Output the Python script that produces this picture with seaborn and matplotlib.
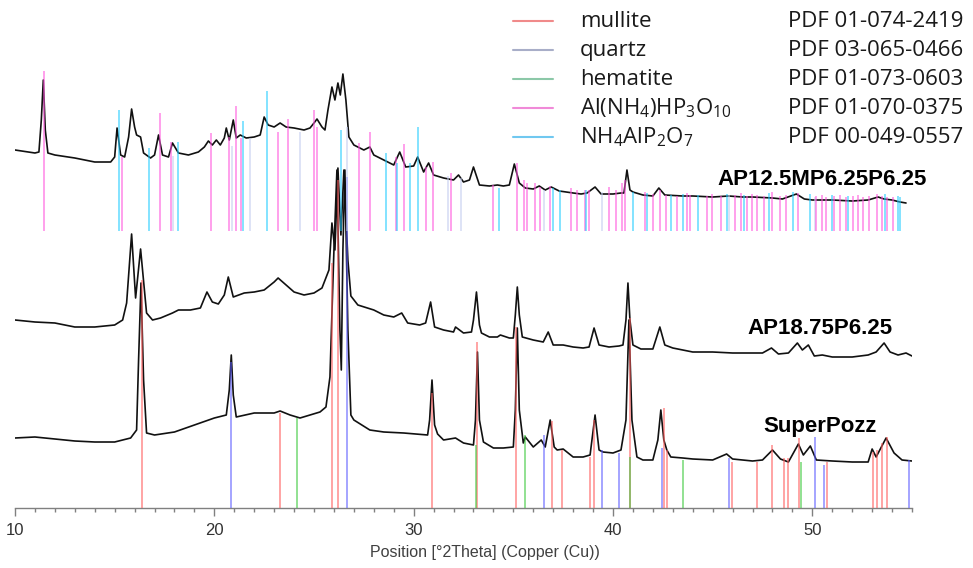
import matplotlib
matplotlib.use("Agg")
import numpy as np
import pandas as pd
import matplotlib.pyplot as plt
import seaborn as sns
from matplotlib.lines import Line2D
from matplotlib.ticker import MultipleLocator

# --- XRD patterns (2theta in deg, intensity in a.u. incl. stacking offset) ---
sp_2theta = [10.0, 11.0, 12.0, 13.0, 14.0, 15.0, 15.8, 16.1, 16.2, 16.32, 16.45, 16.6, 17.0, 18.0, 19.0, 20.0,
             20.6, 20.75, 20.85, 20.95, 21.1, 22.0, 23.0, 23.3, 23.8, 24.3, 24.8, 25.3, 25.6, 25.8,
             26.0, 26.15, 26.3, 26.37, 26.45, 26.55, 26.7, 26.85, 27.0, 27.8, 28.5, 29.5, 30.7, 30.8,
             30.92, 31.05, 31.2, 31.5, 32.1, 32.5, 33.0, 33.1, 33.2, 33.3, 33.5, 34.0, 34.5, 35.0, 35.1,
             35.2, 35.3, 35.5, 35.6, 36.0, 36.4, 36.6, 36.85, 37.05, 37.2, 37.5, 38.0, 38.5, 38.85, 39.1,
             39.3, 39.5, 40.0, 40.4, 40.65, 40.8, 40.95, 41.2, 41.5, 42.0, 42.25, 42.4, 42.55, 42.7, 42.9,
             43.5, 44.0, 45.0, 45.7, 46.0, 47.0, 47.5, 48.0, 48.4, 48.8, 49.3, 49.55, 49.9, 50.2, 51.0,
             52.0, 52.8, 53.0, 53.2, 53.7, 54.1, 54.5, 55.0]
sp_int = [70, 71, 69, 67, 66, 66, 70, 78, 148, 225, 128, 75, 73, 76, 83, 90,
          93, 118, 153, 113, 91, 95, 95, 97, 93, 90, 93, 96, 101, 131,
          258, 338, 178, 138, 258, 338, 178, 93, 88, 78, 76, 75, 73, 88,
          128, 83, 74, 68, 70, 65, 63, 88, 156, 88, 66, 60, 60, 61, 98,
          180, 98, 65, 71, 61, 68, 61, 88, 61, 58, 59, 51, 51, 53, 93,
          58, 56, 55, 58, 88, 188, 88, 51, 48, 48, 68, 98, 68, 58, 51,
          50, 49, 48, 54, 49, 47, 48, 58, 49, 46, 64, 53, 62, 48, 47,
          46, 46, 59, 51, 70, 55, 48, 47]

ap18_2theta = [10.0, 11.0, 12.0, 13.0, 14.0, 15.0, 15.4, 15.6, 15.85, 16.05, 16.3, 16.6, 16.9, 17.3, 17.9,
               18.2, 18.8, 19.3, 19.63, 19.9, 20.2, 20.5, 20.7, 20.95, 21.5, 22.0, 22.5, 23.0, 23.2, 23.6,
               24.0, 24.5, 25.0, 25.4, 25.75, 25.9, 26.05, 26.2, 26.35, 26.5, 26.7, 26.85, 27.2, 28.0,
               28.5, 29.0, 29.4, 29.7, 30.3, 30.6, 30.85, 31.05, 31.5, 32.0, 32.1, 32.5, 32.9, 33.0,
               33.15, 33.3, 33.4, 33.8, 34.2, 34.35, 34.8, 35.0, 35.1, 35.2, 35.3, 35.45, 36.0, 36.5,
               36.75, 37.0, 37.5, 38.0, 38.5, 38.8, 39.05, 39.3, 39.8, 40.3, 40.5, 40.65, 40.75, 40.85,
               41.0, 41.4, 42.0, 42.35, 42.6, 43.0, 44.0, 45.0, 46.0, 47.0, 47.5, 47.95, 48.3, 48.8,
               49.25, 49.5, 49.8, 50.1, 50.5, 51.0, 52.0, 52.8, 53.2, 53.6, 53.9, 54.3, 54.7, 55.0]
ap18_int = [188, 186, 185, 181, 181, 183, 188, 205, 274, 210, 259, 195, 188, 190, 195,
            198, 198, 200, 216, 206, 204, 213, 231, 211, 215, 216, 218, 226, 230, 223,
            216, 213, 215, 220, 238, 285, 258, 340, 273, 338, 248, 212, 203, 198,
            193, 191, 195, 185, 183, 185, 206, 181, 178, 176, 181, 175, 176, 188,
            216, 183, 175, 171, 171, 173, 170, 170, 193, 221, 193, 171, 168, 166,
            176, 163, 163, 161, 160, 161, 180, 163, 161, 162, 163, 188, 225, 188,
            163, 159, 159, 181, 163, 160, 156, 156, 155, 155, 155, 160, 154, 155,
            165, 158, 163, 152, 153, 151, 151, 153, 156, 165, 156, 153, 155, 152]

ap12_2theta = [10.0, 11.0, 11.2, 11.32, 11.42, 11.52, 11.65, 12.0, 13.0, 14.0, 14.8, 15.0, 15.12, 15.3,
               15.5, 15.7, 15.85, 16.0, 16.1, 16.3, 16.45, 16.8, 17.0, 17.2, 17.4, 17.7, 17.9, 18.2,
               18.7, 19.2, 19.5, 19.7, 19.9, 20.1, 20.3, 20.5, 20.6, 20.75, 20.95, 21.1, 21.3, 21.6,
               22.0, 22.3, 22.5, 22.7, 23.0, 23.3, 23.6, 24.0, 24.5, 24.8, 25.0, 25.15, 25.4, 25.55,
               25.7, 25.9, 26.05, 26.2, 26.32, 26.45, 26.6, 26.75, 27.0, 27.5, 27.8, 28.0, 28.5, 29.0,
               29.3, 29.6, 30.0, 30.2, 30.5, 30.75, 31.0, 31.5, 32.0, 32.25, 32.5, 32.8, 33.0, 33.3,
               33.8, 34.2, 34.5, 34.8, 35.05, 35.3, 35.6, 36.0, 36.3, 36.6, 36.9, 37.3, 38.0, 38.4,
               38.7, 39.1, 39.4, 40.0, 40.4, 40.55, 40.7, 40.85, 41.0, 41.5, 42.0, 42.3, 42.6, 43.5,
               44.0, 45.0, 45.8, 46.5, 47.0, 48.0, 48.5, 49.2, 49.6, 50.0, 51.0, 52.0, 52.8, 53.3,
               53.6, 54.0, 54.4, 54.7]
ap12_int = [358, 355, 356, 388, 428, 378, 355, 353, 350, 346, 346, 351, 380, 353,
            351, 371, 399, 381, 373, 371, 355, 350, 353, 373, 353, 351, 365, 355,
            353, 356, 361, 367, 363, 368, 363, 370, 380, 368, 388, 370, 373, 370,
            371, 373, 391, 383, 381, 385, 381, 380, 378, 380, 385, 389, 381, 378,
            398, 421, 408, 425, 413, 434, 408, 371, 363, 358, 361, 353, 348, 343,
            356, 341, 342, 351, 336, 345, 333, 330, 328, 333, 326, 328, 341, 323,
            322, 323, 322, 323, 344, 325, 320, 319, 322, 318, 321, 317, 315, 314,
            315, 321, 314, 314, 315, 315, 338, 318, 316, 313, 312, 320, 313, 312,
            312, 311, 312, 311, 311, 310, 309, 314, 309, 308, 308, 307, 308, 311,
            309, 308, 306, 305]

# --- reference patterns (stick positions and heights) ---
mullite_pos = [16.35, 23.3, 25.9, 26.2, 30.9, 33.2, 35.15, 36.95, 37.45, 38.85, 39.05, 40.85, 42.55,
               42.7, 45.95, 47.2, 48.0, 48.6, 48.8, 49.35, 50.75, 53.05, 53.25, 53.5, 53.75]
mullite_int = [228, 95, 245, 328, 115, 166, 181, 87, 58, 51, 88, 190, 100,
               58, 46, 46, 63, 50, 50, 70, 46, 56, 58, 65, 71]
quartz_pos = [20.85, 26.65, 36.55, 39.45, 40.3, 42.45, 45.8, 50.15, 50.6, 54.85]
quartz_int = [146, 331, 73, 58, 55, 60, 50, 71, 43, 48]
hematite_pos = [24.15, 33.15, 35.6, 40.85, 43.5, 49.45]
hematite_int = [90, 63, 73, 51, 48, 46]

alnh4_pos = [11.45, 15.37, 17.28, 17.83, 19.83, 20.74, 21.09, 21.34, 23.2, 23.7,
             25.0, 25.15, 27.26, 27.8, 29.1, 29.5, 30.6, 30.95, 31.85, 34.0,
             35.2, 35.55, 35.7, 36.1, 36.35, 36.85, 37.9, 38.2, 38.6, 38.8,
             39.8, 40.15, 40.45, 40.6, 41.6, 42.0, 42.35, 42.65, 43.2, 43.7,
             43.85, 44.7, 44.95, 45.4, 46.1, 46.4, 46.7, 46.95, 47.2, 47.6,
             48.0, 48.4, 48.7, 49.3, 50.2, 50.5, 50.7, 51.1, 51.4, 51.7,
             52.05, 52.3, 52.55, 52.85, 53.25, 53.5, 53.75, 54.05]
alnh4_int = [160, 74, 118, 89, 98, 94, 125, 93, 99, 112,
             121, 104, 88, 99, 74, 87, 64, 69, 58, 46,
             68, 51, 48, 48, 44, 45, 43, 41, 41, 41,
             44, 41, 48, 51, 39, 37, 41, 36, 35, 38,
             36, 35, 37, 35, 36, 38, 35, 37, 36, 35,
             39, 35, 36, 38, 35, 36, 34, 35, 36, 34,
             35, 36, 34, 35, 37, 35, 34, 34]
nh4alp_pos = [15.2, 16.72, 18.18, 21.45, 22.64, 26.36, 28.6, 29.17, 29.8, 30.2,
              34.3, 37.0, 37.35, 38.65, 41.0, 41.7, 42.9, 43.5, 44.25, 45.7,
              46.55, 47.85, 49.05, 49.9, 51.0, 51.8, 53.65, 54.3, 54.4]
nh4alp_int = [121, 83, 89, 110, 140, 101, 78, 68, 68, 104,
              43, 43, 41, 41, 39, 38, 36, 37, 36, 37,
              36, 38, 39, 37, 36, 35, 37, 35, 34]
faint_pos = [17.93, 20.9, 21.8, 24.3, 26.65, 31.7, 32.35, 36.55, 39.45, 45.8, 50.15]
faint_int = [75, 85, 93, 99, 104, 55, 53, 41, 39, 36, 34]

phase_names = ["mullite", "quartz", "hematite",
               r"Al(NH$_\mathregular{4}$)HP$_\mathregular{3}$O$_\mathregular{10}$",
               r"NH$_\mathregular{4}$AlP$_\mathregular{2}$O$_\mathregular{7}$"]
phase_codes = ["PDF 01-074-2419", "PDF 03-065-0466", "PDF 01-073-0603",
               "PDF 01-070-0375", "PDF 00-049-0557"]
sample_names = ["AP12.5MP6.25P6.25", "AP18.75P6.25", "SuperPozz"]

top_base = 277  # offset of the stick patterns drawn with the top sample

# --- Style ---
sns.set_theme(style="white")
plt.rcParams["font.family"] = ["Liberation Sans", "DejaVu Sans"]

fig = plt.figure(figsize=(9.73, 5.68), dpi=100)
ax = fig.add_axes([15 / 973, 60 / 568, 897 / 973, 508 / 568])

# --- Traces ---
traces = pd.concat([
    pd.DataFrame({"two_theta": ap12_2theta, "intensity": ap12_int, "sample": sample_names[0]}),
    pd.DataFrame({"two_theta": ap18_2theta, "intensity": ap18_int, "sample": sample_names[1]}),
    pd.DataFrame({"two_theta": sp_2theta, "intensity": sp_int, "sample": sample_names[2]}),
], ignore_index=True)
sns.lineplot(data=traces, x="two_theta", y="intensity", units="sample", estimator=None,
             sort=False, color="#111111", lw=1.2, ax=ax, zorder=2)

# --- Sticks ---
stick_sets = [
    (mullite_pos, mullite_int, 0, "#ff5c5c"),
    (quartz_pos, quartz_int, 0, "#5c5cff"),
    (hematite_pos, hematite_int, 0, "#3cc83c"),
    (faint_pos, faint_int, top_base, "#c4cdf0"),
    (alnh4_pos, alnh4_int, top_base, "#ff55dd"),
    (nh4alp_pos, nh4alp_int, top_base, "#22ccff"),
]
for pos, inten, base, col in stick_sets:
    ax.vlines(pos, base, base + np.array(inten), colors=col, lw=1.3, alpha=0.6, zorder=3)

# --- Sample labels ---
label_x = [45.22, 46.73, 47.53]
label_y = [323, 174, 76]
for name, lx, ly in zip(sample_names, label_x, label_y):
    ax.text(lx, ly, name, fontsize=16, fontweight="bold", va="baseline", color="black")

# --- Legend (phase, colour, PDF card) ---
legend_colors = ["#f08a8a", "#a8aec8", "#8cc8a8", "#f08ad8", "#70c8f0"]
for i, (name, code, col) in enumerate(zip(phase_names, phase_codes, legend_colors)):
    base_y = 1 - (27 + 29 * i) / 568
    fig.add_artist(Line2D([513 / 973, 553 / 973], [base_y + 6 / 568] * 2, color=col, lw=1.5))
    fig.text(580 / 973, base_y, name, fontsize=16, family=["Open Sans", "DejaVu Sans"],
             va="baseline", color="#1a1a1a")
    fig.text(788 / 973, base_y, code, fontsize=16, family=["Open Sans", "DejaVu Sans"],
             va="baseline", color="#1a1a1a")

# --- Axes ---
ax.set_xlim(10, 55)
ax.set_ylim(0, 508)
ax.set_yticks([])
ax.set_ylabel("")
ax.xaxis.set_major_locator(MultipleLocator(10))
ax.xaxis.set_minor_locator(MultipleLocator(1))
for side in ["left", "right", "top"]:
    ax.spines[side].set_visible(False)
ax.spines["bottom"].set_color("#808080")
ax.spines["bottom"].set_linewidth(1.0)
ax.tick_params(axis="x", which="both", bottom=True, direction="out", color="#808080", width=1.0)
ax.tick_params(axis="x", which="major", length=6, pad=5, labelsize=12, labelcolor="#333333")
ax.tick_params(axis="x", which="minor", length=3)
ax.set_xlabel("Position [°2Theta] (Copper (Cu))", fontsize=11.5, color="#404040")
ax.xaxis.set_label_coords((485 - 15) / 897, -0.072)
ax.patch.set_alpha(0)

fig.savefig("out.png", dpi=100)
